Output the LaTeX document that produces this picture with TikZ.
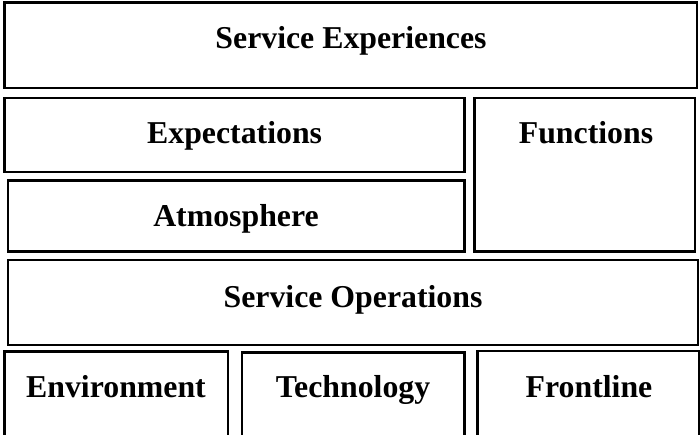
\documentclass[tikz,border=0pt]{standalone}
\usepackage{fontspec}
\setmainfont{Liberation Serif}
\begin{document}
\begin{tikzpicture}[x=1pt,y=-1pt,
  blk/.style={draw=black, line width=2.7pt, rectangle, inner sep=0pt, outer sep=0pt},
  lbl/.style={anchor=base, inner sep=0pt, font=\fontsize{31.8}{38}\selectfont\bfseries}]
\useasboundingbox (0,0) rectangle (700,434);
\clip (0,0) rectangle (700,434);
% boxes: centers and sizes from pixel edges
\node[blk, minimum width=692.5pt, minimum height=85.5pt] (se) at (350.75,45.25) {};
\node[blk, minimum width=460.2pt, minimum height=74pt] (ex) at (234.6,135) {};
\node[blk, minimum width=456.7pt, minimum height=71.4pt] (at) at (236.35,216) {};
\node[blk, minimum width=220.3pt, minimum height=153.7pt] (fu) at (584.85,174.85) {};
\node[blk, minimum width=690pt, minimum height=85pt] (so) at (353,302.5) {};
\node[blk, minimum width=223.3pt, minimum height=98.3pt] (en) at (116.35,400.85) {};
\node[blk, minimum width=222.7pt, minimum height=97.3pt] (te) at (353.35,401.35) {};
\node[blk, minimum width=221.7pt, minimum height=99pt] (fr) at (588.15,400.5) {};
% labels
\node[lbl] (tse) at (351,48) {Service Experiences};
\node[lbl] (tex) at (234.6,143) {Expectations};
\node[lbl] (tat) at (236,226) {Atmosphere};
\node[lbl] (tfu) at (586,143) {Functions};
\node[lbl] (tso) at (353,307) {Service Operations};
\node[lbl] (ten) at (116,397) {Environment};
\node[lbl] (tte) at (353,397) {Technology};
\node[lbl] (tfr) at (589,397) {Frontline};
\end{tikzpicture}
\end{document}
